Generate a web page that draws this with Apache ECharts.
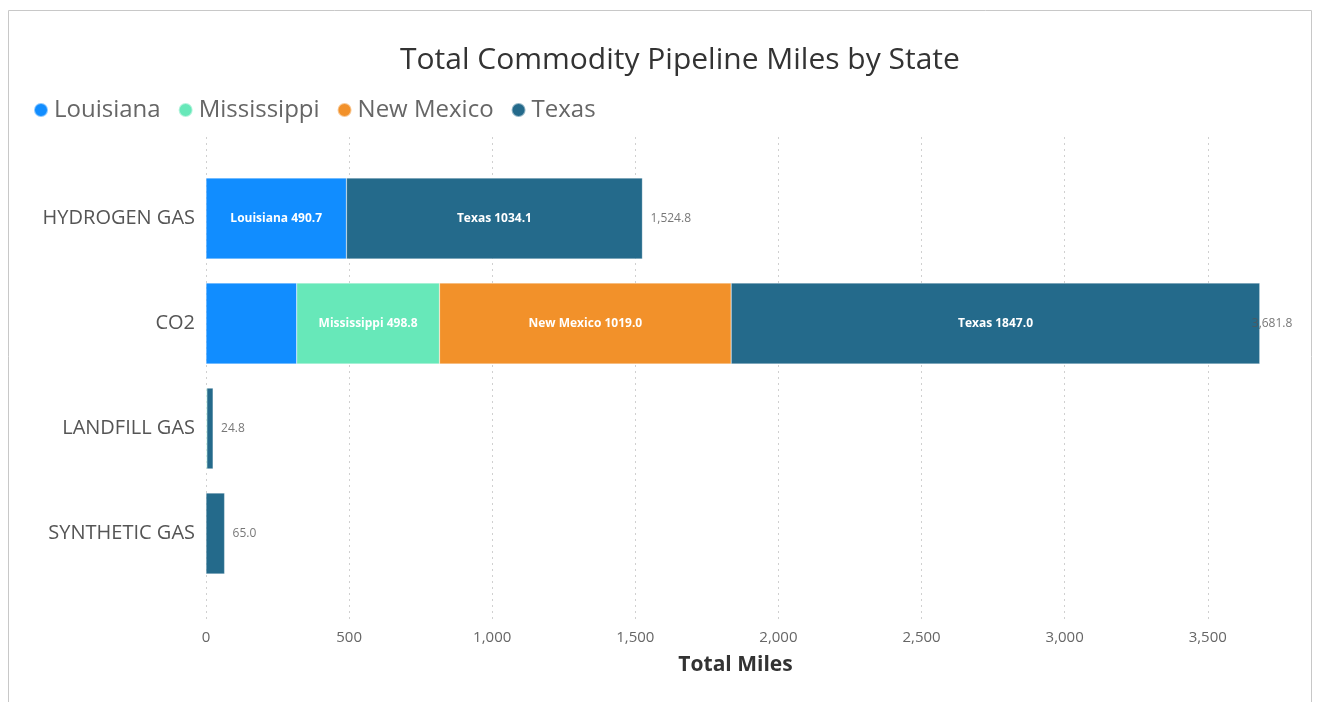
<!DOCTYPE html>
<html><head><meta charset="utf-8">
<script src="https://cdn.jsdelivr.net/npm/echarts@6/dist/echarts.min.js"></script>
<style>html,body{margin:0;padding:0;background:#fff}#c{width:1317px;height:702px}</style>
</head><body><div id="c"></div>
<script>
const categories = ['HYDROGEN GAS', 'CO2', 'LANDFILL GAS', 'SYNTHETIC GAS'];
const states = ['Louisiana', 'Mississippi', 'New Mexico', 'Texas'];
const louisiana = [490.7, 317.0, 0, 0];
const mississippi = [0, 498.8, 3.0, 0];
const newMexico = [0, 1019.0, 0, 0];
const texas = [1034.1, 1847.0, 21.8, 65.0];
const totals = [1524.8, 3681.8, 24.8, 65.0];
const colors = ['#118DFF', '#67E8B9', '#F2912A', '#246A8B'];

const font = '"Open Sans", "Noto Sans", sans-serif';
const seriesData = [louisiana, mississippi, newMexico, texas];
const series = states.map((s, i) => ({
  name: s, type: 'bar', stack: 'total', barCategoryGap: '23%',
  data: seriesData[i].map(v => v === 0 ? null : v),
  itemStyle: { color: colors[i], borderColor: 'rgba(255,255,255,0.5)', borderWidth: 0.5 },
  label: {
    show: true, position: 'inside', color: '#fff', fontSize: 12, fontWeight: 'bold', fontFamily: font,
    formatter: p => (p.value >= 450 ? p.seriesName + ' ' + Number(p.value).toFixed(1) : '')
  }
}));
series.push({
  name: 'total', type: 'scatter', symbolSize: 0, silent: true,
  data: totals.map((v, i) => ({ value: [v, categories[i]], label: i === 1 ? { offset: [-16, 0] } : undefined })),
  label: {
    show: true, position: 'right', distance: 8, color: '#555', fontSize: 12, fontFamily: font,
    formatter: p => p.value[0].toLocaleString('en-US', { minimumFractionDigits: 1, maximumFractionDigits: 1 })
  }
});

const chart = echarts.init(document.getElementById('c'));
chart.setOption({
  animation: false,
  title: { text: 'Total Commodity Pipeline Miles by State', left: 395, top: 40,
    textStyle: { fontFamily: font, fontSize: 30, fontWeight: 'normal', color: '#333' } },
  legend: { data: states, left: 28, top: 93, icon: 'circle', itemWidth: 14, itemHeight: 14, itemGap: 17,
    textStyle: { fontFamily: font, fontSize: 24, color: '#666', padding: [0, 0, 0, 1] } },
  grid: [
    { left: 206, right: 52, top: 166, bottom: 116, containLabel: false },
    { left: 206, right: 52, top: 137, bottom: 79, containLabel: false }
  ],
  xAxis: [{
    type: 'value', min: 0, max: 3700, interval: 500, gridIndex: 0,
    name: 'Total Miles', nameLocation: 'middle', nameGap: 69,
    nameTextStyle: { fontFamily: font, fontSize: 21, fontWeight: 'bold', color: '#333' },
    axisLine: { show: false }, axisTick: { show: false },
    axisLabel: { fontFamily: font, fontSize: 15, color: '#666', margin: 44, showMaxLabel: false,
      formatter: v => v.toLocaleString('en-US') },
    splitLine: { show: false }
  }, {
    type: 'value', min: 0, max: 3700, interval: 500, gridIndex: 1,
    axisLine: { show: false }, axisTick: { show: false }, axisLabel: { show: false },
    splitLine: { show: true, showMaxLine: false, lineStyle: { type: [2, 4], color: '#d0d0d0' } }
  }],
  yAxis: [{
    type: 'category', data: categories, inverse: true, gridIndex: 0,
    axisLine: { show: false }, axisTick: { show: false },
    axisLabel: { fontFamily: font, fontSize: 20, color: '#555', margin: 11 }
  }, {
    type: 'category', data: categories, gridIndex: 1, show: false
  }],
  series: series,
  graphic: [{ type: 'rect', shape: { x: 8.5, y: 10.5, width: 1303, height: 700 }, silent: true,
    style: { fill: 'none', stroke: '#c8c8c8', lineWidth: 1 } }]
});
</script></body></html>
